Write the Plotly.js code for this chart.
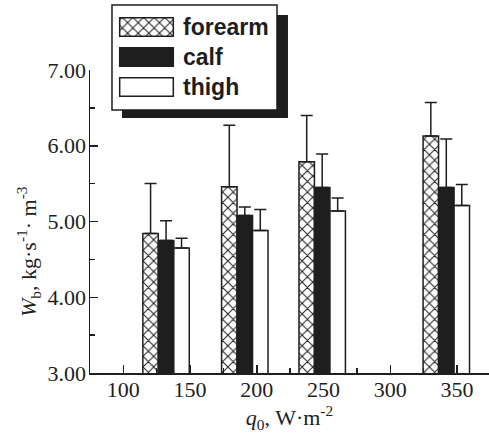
<!DOCTYPE html>
<html><head><meta charset="utf-8">
<script src="https://cdn.plot.ly/plotly-3.0.1.min.js"></script>
<style>html,body{margin:0;padding:0;background:#fff;}#chart{width:489px;height:441px;}</style>
</head><body><div id="chart"></div>
<script>
// Data
const q0 = [132, 191, 249, 342];
const seriesNames = ["forearm", "calf", "thigh"];
const forearm = [4.84, 5.46, 5.79, 6.13];
const forearmErr = [0.66, 0.81, 0.61, 0.44];
const calf = [4.75, 5.08, 5.45, 5.45];
const calfErr = [0.26, 0.11, 0.44, 0.64];
const thigh = [4.65, 4.88, 5.14, 5.21];
const thighErr = [0.13, 0.28, 0.17, 0.28];
const yTicks = [3, 4, 5, 6, 7];
const xTicks = [100, 150, 200, 250, 300, 350];

const INK = '#1e1e1e';
const serif = 'Liberation Serif, Times New Roman, serif';
const sans = 'Liberation Sans, Arial, sans-serif';
const barW = 11.6;
const styles = [
  {color: 'white', pattern: {shape: 'x', fgcolor: INK, bgcolor: 'white', size: 7.5, solidity: 0.25}},
  {color: INK, pattern: null},
  {color: 'white', pattern: null}
];
const vals = [forearm, calf, thigh];
const errs = [forearmErr, calfErr, thighErr];

const traces = [];
vals.forEach((v, i) => {
  const m = {color: styles[i].color, line: {color: INK, width: 1.5}};
  if (styles[i].pattern) m.pattern = styles[i].pattern;
  traces.push({
    type: 'bar', name: seriesNames[i], x: q0, y: v,
    width: barW, offset: -1.5 * barW + i * barW,
    marker: m, showlegend: false,
    error_y: {type: 'data', symmetric: false, array: errs[i], arrayminus: errs[i].map(() => 0),
              color: INK, thickness: 1.5, width: 6}
  });
});
// legend symbols (drawn as bars on a small inset axis)
seriesNames.forEach((n, i) => {
  const m = {color: styles[i].color, line: {color: INK, width: 1.5}};
  if (styles[i].pattern) m.pattern = styles[i].pattern;
  traces.push({type: 'bar', orientation: 'h', x: [1], y: [2 - i], base: 0, width: 0.62,
    xaxis: 'x2', yaxis: 'y2', marker: m, showlegend: false, hoverinfo: 'skip'});
});

const annotations = seriesNames.map((n, i) => ({
  xref: 'paper', yref: 'paper', x: 0.2281, y: [0.9276, 0.8472, 0.7668][i],
  xanchor: 'left', yanchor: 'middle', showarrow: false, text: n,
  font: {family: sans, size: 23, color: INK, weight: 'bold'}
}));
annotations.push({
  xref: 'paper', yref: 'paper', x: -0.1554, y: 0.327, textangle: -90,
  xanchor: 'center', yanchor: 'middle', showarrow: false,
  text: '<i>W</i><sub>b</sub>, kg·s<sup>-1</sup>· m<sup>-3</sup>',
  font: {family: serif, size: 22, color: INK}
});

const layout = {
  width: 489, height: 441,
  margin: {l: 90, r: 0, t: 0, b: 68},
  paper_bgcolor: 'white', plot_bgcolor: 'white',
  barmode: 'overlay', showlegend: false,
  font: {family: serif, size: 22, color: INK},
  xaxis: {
    range: [75, 374], tickvals: xTicks, ticktext: xTicks.map(String),
    ticks: 'inside', ticklen: 8, tickwidth: 1.5, tickcolor: INK,
    ticklabelposition: 'outside', ticklabelstandoff: -4,
    showline: true, linewidth: 1.5, linecolor: INK, showgrid: false, zeroline: false,
    minor: {dtick: 25, tick0: 75, ticks: 'inside', ticklen: 5, tickwidth: 1.5, tickcolor: INK},
    tickfont: {family: serif, size: 22, color: INK},
    title: {text: '<i>q</i><sub>0</sub>, W·m<sup>-2</sup>', font: {family: serif, size: 22, color: INK}, standoff: 4}
  },
  yaxis: {
    domain: [0, 0.81233], range: [3, 7], tickvals: yTicks, ticktext: yTicks.map(v => v.toFixed(2)),
    ticks: 'inside', ticklen: 8, tickwidth: 1.5, tickcolor: INK,
    ticklabelposition: 'outside', ticklabelstandoff: -2,
    showline: true, linewidth: 1.5, linecolor: INK, showgrid: false, zeroline: false,
    minor: {dtick: 0.5, tick0: 3, ticks: 'inside', ticklen: 5, tickwidth: 1.5, tickcolor: INK},
    tickfont: {family: serif, size: 22, color: INK}
  },
  xaxis2: {domain: [0.0677, 0.2155], range: [-0.05, 1.05], anchor: 'y2', visible: false, fixedrange: true},
  yaxis2: {domain: [0.7265, 0.9678], range: [-0.5, 2.5], anchor: 'x2', visible: false, fixedrange: true},
  shapes: [
    {type: 'rect', xref: 'paper', yref: 'paper', x0: 0.0802, x1: 0.4962, y0: 0.6836, y1: 0.9598,
     fillcolor: INK, line: {width: 0}, layer: 'below'},
    {type: 'rect', xref: 'paper', yref: 'paper', x0: 0.0551, x1: 0.4687, y0: 0.7051, y1: 0.9866,
     fillcolor: 'white', line: {color: INK, width: 1.5}, layer: 'below'}
  ],
  annotations: annotations
};
Plotly.newPlot('chart', traces, layout, {staticPlot: true, displayModeBar: false});
</script></body></html>
